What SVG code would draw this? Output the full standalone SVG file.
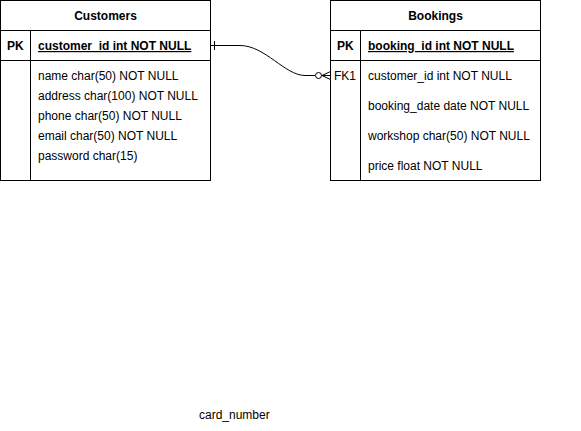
<svg xmlns="http://www.w3.org/2000/svg" width="581" height="431" viewBox="0 0 581 431">
  <style>
    text { font-family: "Liberation Sans", Arial, sans-serif; font-size: 12px; fill: #000; }
    .b { font-weight: bold; }
    .u { text-decoration: underline; }
    .c { text-anchor: middle; }
    .box { fill: #fff; stroke: #000; stroke-width: 1; }
    .ln { fill: none; stroke: #000; stroke-width: 1; }
  </style>
  <rect width="581" height="431" fill="#fff"/>

  <g id="customers">
    <rect class="box" x="0.5" y="0.5" width="210" height="180"/>
    <line class="ln" x1="0.5" y1="30.5" x2="210.5" y2="30.5"/>
    <line class="ln" x1="0.5" y1="60.5" x2="210.5" y2="60.5"/>
    <line class="ln" x1="30.5" y1="30.5" x2="30.5" y2="180.5"/>
    <text class="b c" x="105.5" y="20">Customers</text>
    <text class="b" x="7" y="50">PK</text>
    <text class="b u" x="38" y="50">customer_id int NOT NULL</text>
    <text x="38" y="80">name char(50) NOT NULL</text>
    <text x="38" y="100">address char(100) NOT NULL</text>
    <text x="38" y="120">phone char(50) NOT NULL</text>
    <text x="38" y="140">email char(50) NOT NULL</text>
    <text x="38" y="160">password char(15)</text>
  </g>

  <g id="bookings">
    <rect class="box" x="330.5" y="0.5" width="210" height="180"/>
    <line class="ln" x1="330.5" y1="30.5" x2="540.5" y2="30.5"/>
    <line class="ln" x1="330.5" y1="60.5" x2="540.5" y2="60.5"/>
    <line class="ln" x1="360.5" y1="30.5" x2="360.5" y2="180.5"/>
    <text class="b c" x="435.5" y="20">Bookings</text>
    <text class="b" x="337" y="50">PK</text>
    <text class="b u" x="368" y="50">booking_id int NOT NULL</text>
    <text x="334" y="80">FK1</text>
    <text x="368" y="80">customer_id int NOT NULL</text>
    <text x="368" y="110">booking_date date NOT NULL</text>
    <text x="368" y="140">workshop char(50) NOT NULL</text>
    <text x="368" y="170">price float NOT NULL</text>
  </g>

  <g id="connectors">
    <path class="ln" d="M210.5 45.5 H240 C265 45.5 285 75.5 305 75.5 H315"/>
    <line class="ln" x1="214.5" y1="41" x2="214.5" y2="50"/>
    <circle class="ln" cx="318.5" cy="75.5" r="3"/>
    <path class="ln" d="M322 75.5 H330.5 M322 75.5 L330.5 71.5 M322 75.5 L330.5 79.5"/>
  </g>

  <text id="card_number" x="199" y="419">card_number</text>
</svg>
